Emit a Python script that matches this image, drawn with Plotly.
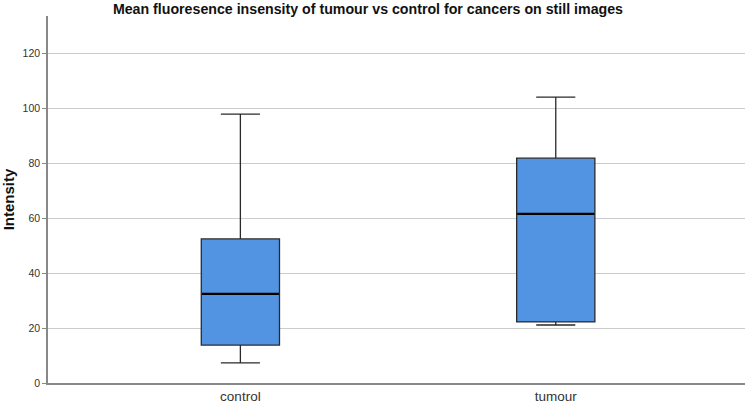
import plotly.graph_objects as go

categories = ["control", "tumour"]
lower_whisker = [7.3, 21.1]
q1 = [13.8, 22.2]
median = [32.4, 61.5]
q3 = [52.4, 81.8]
upper_whisker = [97.8, 104.0]
y_ticks = [0, 20, 40, 60, 80, 100, 120]

fig = go.Figure()
fig.add_trace(go.Box(
    x=categories,
    q1=q1, median=median, q3=q3,
    lowerfence=lower_whisker, upperfence=upper_whisker,
    fillcolor="#5294E2",
    line=dict(color="#2a2a2a", width=1.3),
    width=0.248,
    whiskerwidth=0.5,
    boxpoints=False,
    hoverinfo="skip",
    showlegend=False,
))
# thick black median line drawn as a zero-height box at the median values
fig.add_trace(go.Box(
    x=categories,
    q1=median, median=median, q3=median,
    lowerfence=median, upperfence=median,
    fillcolor="rgba(0,0,0,0)",
    line=dict(color="#000000", width=2.2),
    width=0.244,
    whiskerwidth=0,
    boxpoints=False,
    hoverinfo="skip",
    showlegend=False,
))

fig.update_layout(
    width=749, height=404,
    boxmode="overlay",
    margin=dict(l=48, r=4, t=16, b=21, autoexpand=False),
    paper_bgcolor="white", plot_bgcolor="white",
    font=dict(family="Liberation Sans, Arial, sans-serif", color="#222222"),
    title=dict(
        text="<b>Mean fluoresence insensity of tumour vs control for cancers on still images</b>",
        x=0.459, xanchor="center", xref="paper",
        y=0.978, yanchor="middle", yref="container",
        font=dict(size=14.2, color="#111111"),
        automargin=False,
    ),
    xaxis=dict(
        type="category",
        range=[-0.61, 1.6],
        showline=True, linecolor="#888888", linewidth=1.5,
        showgrid=False, ticks="",
        tickfont=dict(size=13.5, color="#333333"),
        zeroline=False,
        automargin=False,
    ),
    yaxis=dict(
        range=[0, 133.5],
        tickvals=y_ticks,
        showline=True, linecolor="#888888", linewidth=1.5,
        showgrid=True, gridcolor="#cccccc", gridwidth=1,
        ticks="outside", ticklen=4, tickcolor="#888888",
        tickfont=dict(size=10.5, color="#333333"),
        zeroline=False,
        automargin=False,
        title=dict(text="<b>Intensity</b>", font=dict(size=15, color="#111111"), standoff=10),
    ),
)

fig.write_html(
    "out.html",
    config={"displayModeBar": False},
    post_script="document.body.style.margin='0';document.body.style.padding='0';",
)
